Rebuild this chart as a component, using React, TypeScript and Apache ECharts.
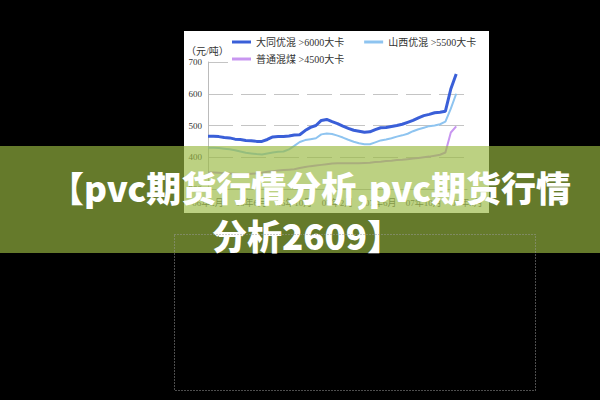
import React, { useEffect, useRef } from "react";
import * as echarts from "echarts";

const months = [
  "06年2月", "06年3月", "06年4月", "06年5月", "06年6月", "06年7月", "06年8月",
  "06年9月", "06年10月", "06年11月", "06年12月", "07年1月", "07年2月", "07年3月",
  "07年4月", "07年5月", "07年6月", "07年7月", "07年8月", "07年9月", "07年10月",
  "07年11月", "07年12月", "08年1月", "08年2月",
];
// half-month categories
const categories = months.flatMap((m, i) => (i < months.length - 1 ? [m, m + "下旬"] : [m]));

const seriesNames = ["大同优混 >6000大卡", "山西优混 >5500大卡", "普通混煤 >4500大卡"];

const datong = [
  466, 466, 465, 462, 461, 457, 456, 453, 452, 450, 450, 456, 464, 465, 465, 467,
  470, 471, 484, 494, 500, 516, 519, 512, 506, 498, 491, 485, 482, 479, 480, 487,
  493, 494, 497, 500, 504, 510, 516, 524, 531, 535, 540, 542, 545, 615, 662,
];
const shanxi = [
  430, 430, 429, 427, 425, 422, 418, 414, 412, 410, 409, 412, 415, 417, 418, 425,
  436, 448, 454, 457, 460, 472, 475, 473, 468, 462, 455, 449, 444, 441, 441, 447,
  453, 456, 460, 465, 469, 474, 482, 488, 493, 498, 500, 504, 512, 553, 600,
];
const putong = [
  352, 352, 351, 350, 349, 348, 347, 347, 348, 349, 351, 354, 356, 358, 360, 361,
  362, 366, 369, 372, 374, 376, 378, 380, 381, 381, 381, 381, 381, 382, 383, 385,
  386, 388, 389, 391, 392, 394, 396, 398, 400, 402, 405, 408, 415, 478, 497,
];

const yTicks = { min: 300, max: 700, interval: 100 };
const unitLabel = "（元/吨）";
const titleLine1 = "【pvc期货行情分析,pvc期货行情";
const titleLine2 = "分析2609】";

const serif = "'Liberation Serif', 'DejaVu Serif', 'Noto Sans CJK SC', serif";
const cjkBold = "'Noto Sans CJK SC', 'Noto Sans', sans-serif";

export default function App() {
  const ref = useRef<HTMLDivElement>(null);
  useEffect(() => {
    if (!ref.current) return;
    const chart = echarts.init(ref.current, undefined, { renderer: "svg" });
    const colors = ["#3a5fd8", "#8ec4f0", "#c896f0"];
    const widths = [3, 2, 2];
    const datas = [datong, shanxi, putong];
    chart.setOption({
      animation: false,
      backgroundColor: "#000000",
      grid: { left: 208, right: 133, top: 62, bottom: 211, containLabel: false },
      xAxis: {
        type: "category",
        data: categories,
        boundaryGap: false,
        axisLine: { show: true, lineStyle: { color: "#bbbbbb", width: 1 } },
        axisTick: { show: false },
        splitLine: { show: false },
        axisLabel: {
          interval: 7,
          margin: 9,
          color: "#555555",
          fontFamily: serif,
          fontSize: 9,
          formatter: (v: string) => v.replace("下旬", ""),
        },
      },
      yAxis: {
        type: "value",
        min: yTicks.min,
        max: yTicks.max,
        interval: yTicks.interval,
        axisLine: { show: true, lineStyle: { color: "#bbbbbb", width: 1 } },
        axisTick: { show: false },
        axisLabel: { margin: 6, color: "#333333", fontFamily: serif, fontSize: 9 },
        splitLine: { show: true, lineStyle: { color: "#c4c4c4", width: 1, type: [25, 8] } },
      },
      legend: [
        {
          data: [seriesNames[0], seriesNames[1]],
          left: 232,
          top: 37,
          padding: 0,
          itemGap: 20,
          itemWidth: 19,
          itemHeight: 3,
          icon: "rect",
          textStyle: { fontFamily: serif, fontSize: 10, color: "#333333" },
        },
        {
          data: [seriesNames[2]],
          left: 232,
          top: 54,
          padding: 0,
          itemWidth: 19,
          itemHeight: 3,
          icon: "rect",
          textStyle: { fontFamily: serif, fontSize: 10, color: "#333333" },
        },
      ],
      series: datas.map((d, i) => ({
        name: seriesNames[i],
        type: "line",
        data: d,
        showSymbol: false,
        symbol: "none",
        smooth: false,
        lineStyle: { color: colors[i], width: widths[i] },
        itemStyle: { color: colors[i] },
        z: 3 + (2 - i),
      })),
      graphic: [
        {
          type: "rect",
          z: -5,
          shape: { x: 184, y: 31, width: 305, height: 182 },
          style: { fill: "#ffffff" },
          silent: true,
        },
        {
          type: "rect",
          z: 1,
          shape: { x: 228, y: 33, width: 252, height: 33 },
          style: { fill: "#ffffff" },
          silent: true,
        },
        {
          type: "text",
          z: 2,
          x: 186,
          y: 51,
          style: {
            text: unitLabel,
            fill: "#333333",
            font: `10px ${serif}`,
            textVerticalAlign: "middle",
          },
          silent: true,
        },
        {
          type: "rect",
          z: 20,
          shape: { x: 0, y: 146, width: 600, height: 107 },
          style: { fill: "rgba(153,185,65,0.66)" },
          silent: true,
        },
        {
          type: "text",
          z: 21,
          x: 310,
          y: 186,
          style: {
            text: titleLine1,
            fill: "#ffffff",
            font: `900 35px ${cjkBold}`,
            textAlign: "center",
            textVerticalAlign: "middle",
          },
          silent: true,
        },
        {
          type: "text",
          z: 21,
          x: 307,
          y: 234,
          style: {
            text: titleLine2,
            fill: "#ffffff",
            font: `900 35px ${cjkBold}`,
            textAlign: "center",
            textVerticalAlign: "middle",
          },
          silent: true,
        },
        {
          type: "rect",
          z: 22,
          shape: { x: 174.5, y: 234.5, width: 361, height: 156 },
          style: { fill: "none", stroke: "#9a9a9a", lineWidth: 1, lineDash: [1, 2] },
          silent: true,
        },
      ],
    });
    return () => chart.dispose();
  }, []);
  return (
    <div
      ref={ref}
      style={{ position: "absolute", left: 0, top: 0, width: 600, height: 400, background: "#000" }}
    />
  );
}
